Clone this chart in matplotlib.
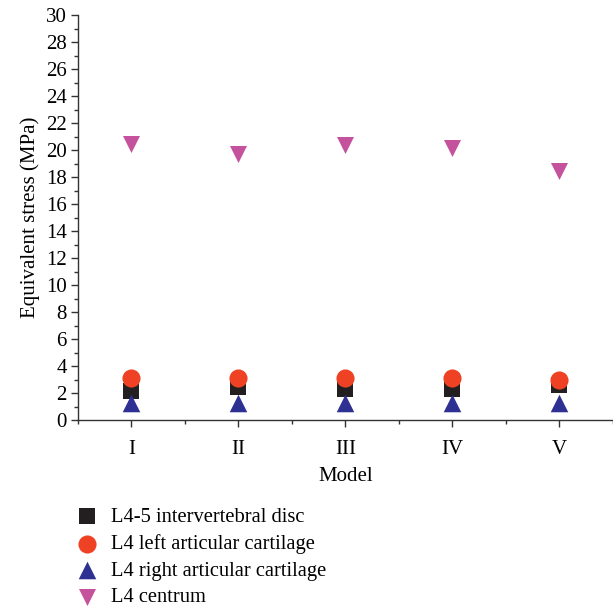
import matplotlib
matplotlib.use("Agg")
import matplotlib.pyplot as plt
from matplotlib.ticker import MultipleLocator

models = ["I", "II", "III", "IV", "V"]
disc = [2.15, 2.45, 2.3, 2.3, 2.6]
left_cart = [3.15, 3.15, 3.15, 3.15, 3.0]
right_cart = [1.25, 1.25, 1.25, 1.25, 1.3]
centrum = [20.5, 19.75, 20.4, 20.2, 18.45]

plt.rcParams['font.family'] = ['Liberation Serif', 'DejaVu Serif']

fig = plt.figure(figsize=(6.13, 6.10), dpi=100)
ax = fig.add_axes([0.127, 0.311, 0.873, 0.664])
x = list(range(1, len(models) + 1))

ax.scatter(x, centrum, marker='v', s=150, color='#c4529c', label='L4 centrum', zorder=3, linewidths=0)
ax.scatter(x, right_cart, marker='^', s=160, color='#2e3192', label='L4 right articular cartilage', zorder=3, linewidths=0)
ax.scatter(x, disc, marker='s', s=120, color='#231f20', label='L4-5 intervertebral disc', zorder=2, linewidths=0)
ax.scatter(x, left_cart, marker='o', s=170, color='#ef4123', label='L4 left articular cartilage', zorder=4, linewidths=0)

ax.set_xlim(0.5, 5.5)
ax.set_ylim(0, 30)
ax.set_xticks(x)
ax.set_xticklabels(models)
ax.xaxis.set_minor_locator(MultipleLocator(0.5))
ax.yaxis.set_major_locator(MultipleLocator(2))
ax.yaxis.set_minor_locator(MultipleLocator(1))
for s in ['top', 'right']:
    ax.spines[s].set_visible(False)
for s in ['left', 'bottom']:
    ax.spines[s].set_color('#333333')
    ax.spines[s].set_linewidth(1.0)
ax.tick_params(which='major', length=5, width=1, color='#333333', labelsize=15, pad=3)
ax.tick_params(axis='x', which='major', pad=9)
ax.tick_params(which='minor', length=3, width=1, color='#333333')
ax.set_xlabel('Model', fontsize=15, labelpad=6)
ax.set_ylabel('Equivalent stress (MPa)', fontsize=15, labelpad=4)

handles, labels = ax.get_legend_handles_labels()
order = [2, 3, 1, 0]
fig.legend([handles[i] for i in order], [labels[i] for i in order],
           loc='upper left', bbox_to_anchor=(0.095, 0.182), frameon=False,
           fontsize=14.8, handletextpad=0.15, labelspacing=0.36, borderaxespad=0)

fig.savefig('out.png', dpi=100)
